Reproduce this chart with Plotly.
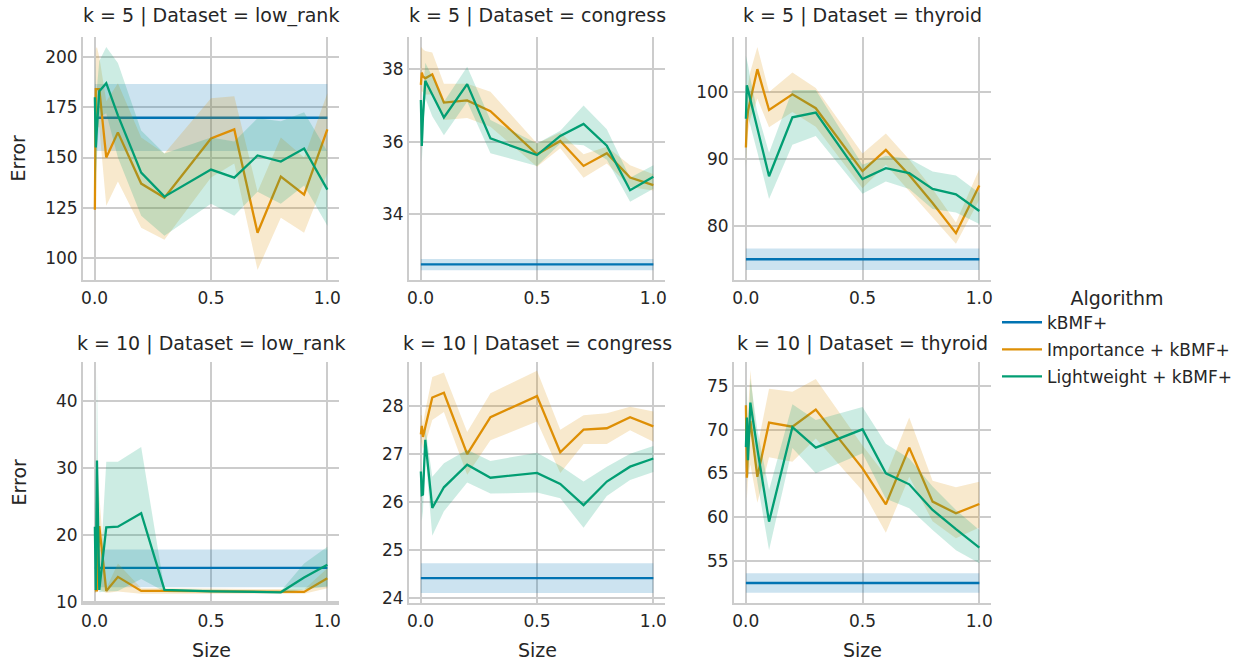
import plotly.graph_objects as go

# ---------------- data ----------------
sizes = [0.001, 0.005, 0.01, 0.02, 0.05, 0.1, 0.2, 0.3, 0.5, 0.6, 0.7, 0.8, 0.9, 1.0]
algorithms = ["kBMF+", "Importance + kBMF+", "Lightweight + kBMF+"]
ks = [5, 10]
datasets = ["low_rank", "congress", "thyroid"]

# k = 5, low_rank
lr5_kbmf = [169.8, 153.2, 186.6]  # mean, ci low, ci high (constant over size)
lr5_imp = [124, 184, 184, 184, 150, 162.5, 137, 130, 159.5, 164, 112.5, 140.5, 131.5, 164]
lr5_imp_lo = [100, 160, 165, 165, 126, 138, 115, 109, 140, 147, 94, 120, 112.5, 142]
lr5_imp_hi = [146, 204, 205, 200, 178, 187, 160, 152, 179.5, 180.5, 133, 160, 150, 182]
lr5_lw = [180, 155, 165, 183, 187, 171, 142.5, 130.5, 144, 140, 151, 148, 154.5, 134]
lr5_lw_lo = [133, 140, 150, 170, 172, 150, 121, 111, 127, 121, 133, 127, 136, 116]
lr5_lw_hi = [203, 175, 185, 198, 205, 197, 163.5, 152, 160, 158, 169.5, 168, 172.5, 153]

# k = 5, congress
cg5_kbmf = [32.61, 32.45, 32.76]
cg5_imp = [37.57, 37.91, 37.8, 37.75, 37.86, 37.08, 37.14, 36.84, 35.65, 36.02, 35.33, 35.68, 35.01, 34.8]
cg5_imp_lo = [37.2, 37.4, 37.35, 37.3, 37.3, 36.6, 36.65, 36.41, 35.31, 35.82, 35.0, 35.4, 34.75, 34.65]
cg5_imp_hi = [38.6, 38.6, 38.55, 38.5, 38.46, 37.6, 37.6, 37.38, 35.95, 36.25, 35.65, 35.86, 35.35, 35.1]
cg5_lw = [37.15, 35.88, 36.7, 37.68, 37.3, 36.67, 37.59, 36.09, 35.63, 36.16, 36.49, 35.89, 34.66, 35.03]
cg5_lw_lo = [36.8, 35.45, 36.2, 37.2, 36.7, 36.18, 37.1, 35.68, 35.33, 35.95, 35.9, 35.5, 34.34, 34.7]
cg5_lw_hi = [37.4, 36.5, 37.3, 38.18, 37.8, 37.1, 38.07, 36.6, 35.95, 36.3, 37.0, 36.34, 35.0, 35.35]

# k = 5, thyroid
th5_kbmf = [75.0, 73.4, 76.6]
th5_imp = [91.7, 95.5, 97.2, 98.8, 103.4, 97.3, 99.65, 97.56, 88.16, 91.34, 87.6, 83.4, 78.9, 86.0]
th5_imp_lo = [88.9, 92.5, 94, 96, 99.0, 94.7, 97.0, 94.8, 85.6, 89.1, 85.2, 81.2, 77.3, 83.9]
th5_imp_hi = [95, 99, 101, 103, 106.7, 100, 102.9, 100.6, 90.8, 93.8, 89.9, 85.5, 80.5, 88.5]
th5_lw = [96.0, 101.0, 100.3, 98.9, 94.6, 87.4, 96.2, 96.9, 86.97, 88.6, 87.86, 85.5, 84.7, 82.2]
th5_lw_lo = [88, 97, 96.5, 95, 91, 84.0, 92.1, 93.4, 84.8, 86.6, 85.5, 82.5, 82.0, 80.25]
th5_lw_hi = [105.4, 104.5, 104, 102, 97, 90.9, 100.3, 100.3, 89.1, 90.45, 90.0, 88.1, 87.5, 84.9]

# k = 10, low_rank
lr10_kbmf = [15.04, 12.15, 17.8]
lr10_imp = [11.7, 11.7, 11.7, 21.3, 11.6, 13.7, 11.6, 11.6, 11.55, 11.5, 11.5, 11.5, 11.45, 13.5]
lr10_imp_lo = [11.3, 11.3, 11.4, 11.8, 11.3, 11.5, 11.2, 11.2, 11.2, 11.2, 11.2, 11.2, 11.2, 12.0]
lr10_imp_hi = [12.2, 20, 31.5, 26, 12.0, 15.7, 12.0, 12.0, 11.9, 11.9, 11.9, 11.9, 11.8, 15.0]
lr10_lw = [21.2, 11.75, 31.1, 11.75, 21.1, 21.2, 23.2, 11.75, 11.55, 11.5, 11.5, 11.4, 13.6, 15.5]
lr10_lw_lo = [11.5, 11.4, 18, 11.4, 11.5, 11.6, 13.4, 11.5, 11.4, 11.4, 11.4, 11.3, 11.8, 12.3]
lr10_lw_hi = [25, 22, 44.6, 12.2, 30.9, 30.9, 33.1, 11.9, 11.8, 11.7, 11.7, 11.6, 15.7, 18.2]

# k = 10, congress
cg10_kbmf = [24.41, 24.1, 24.72]
cg10_imp = [27.4, 27.58, 27.35, 27.55, 28.17, 28.27, 26.99, 27.76, 28.2, 27.03, 27.5, 27.53, 27.76, 27.57]
cg10_imp_lo = [27.15, 27.25, 27.1, 27.2, 27.7, 27.87, 26.56, 27.28, 27.67, 26.6, 27.2, 27.2, 27.49, 27.25]
cg10_imp_hi = [27.8, 27.8, 27.6, 27.9, 28.6, 28.69, 27.45, 28.26, 28.73, 27.5, 27.8, 27.84, 27.98, 27.88]
cg10_lw = [26.63, 26.14, 26.15, 27.29, 25.87, 26.3, 26.77, 26.5, 26.6, 26.37, 25.93, 26.42, 26.73, 26.9]
cg10_lw_lo = [26.3, 25.6, 25.8, 27.0, 25.29, 25.8, 26.4, 26.17, 26.19, 26.07, 25.46, 26.12, 26.45, 26.62]
cg10_lw_hi = [26.9, 26.6, 26.5, 27.55, 26.52, 26.8, 27.08, 26.85, 27.02, 26.75, 26.42, 26.73, 27.0, 27.16]

# k = 10, thyroid
th10_kbmf = [52.44, 51.33, 53.55]
th10_imp = [72.8, 64.5, 68.0, 71.0, 64.6, 70.8, 70.34, 72.3, 65.57, 61.45, 67.94, 61.76, 60.42, 61.49]
th10_imp_lo = [69.5, 62.1, 64.5, 66, 61.64, 66.83, 66.34, 69.0, 63.0, 58.2, 64.6, 59.5, 57.56, 58.8]
th10_imp_hi = [75.5, 70, 72, 76.8, 68, 74.7, 74.35, 75.8, 68.2, 64.73, 71.4, 64.16, 63.4, 64.05]
th10_lw = [68.0, 71.4, 66.5, 73.1, 67.8, 59.47, 70.3, 67.94, 70.04, 65.0, 63.74, 60.8, 58.6, 56.5]
th10_lw_lo = [65.5, 67, 64, 70, 64, 56.2, 67.9, 65.0, 67.3, 62.1, 61.0, 58.5, 56.2, 54.7]
th10_lw_hi = [70, 75.5, 68, 75.9, 70, 63.1, 72.9, 71.1, 72.6, 68.4, 66.7, 63.5, 60.8, 58.5]

x_ticks = [0.0, 0.5, 1.0]
y_ticks = [
    [100, 125, 150, 175, 200], [34, 36, 38], [80, 90, 100],
    [10, 20, 30, 40], [24, 25, 26, 27, 28], [55, 60, 65, 70, 75],
]

# ---------------- styling ----------------
W, H = 1253, 664
colors = ["#0173b2", "#de8f05", "#029e73"]
band_colors = ["rgba(1,115,178,0.2)", "rgba(222,143,5,0.2)", "rgba(2,158,115,0.2)"]
y_ranges = [[89.0, 210.0], [32.18, 38.89], [71.9, 108.2],
            [9.8, 45.8], [23.89, 28.91], [50.15, 77.75]]


def px_x(v):
    return v / W


def px_y(v):
    return 1 - v / H


x_domains = [[px_x(83), px_x(339)], [px_x(409), px_x(665)], [px_x(734), px_x(991)]]
y_domains = [[px_y(280), px_y(37)], [px_y(603), px_y(362)]]
FONT = "DejaVu Sans, Verdana, sans-serif"
TXT = "#262626"
GRID = "#cccccc"

panels = [
    (lr5_kbmf, lr5_imp, lr5_imp_lo, lr5_imp_hi, lr5_lw, lr5_lw_lo, lr5_lw_hi),
    (cg5_kbmf, cg5_imp, cg5_imp_lo, cg5_imp_hi, cg5_lw, cg5_lw_lo, cg5_lw_hi),
    (th5_kbmf, th5_imp, th5_imp_lo, th5_imp_hi, th5_lw, th5_lw_lo, th5_lw_hi),
    (lr10_kbmf, lr10_imp, lr10_imp_lo, lr10_imp_hi, lr10_lw, lr10_lw_lo, lr10_lw_hi),
    (cg10_kbmf, cg10_imp, cg10_imp_lo, cg10_imp_hi, cg10_lw, cg10_lw_lo, cg10_lw_hi),
    (th10_kbmf, th10_imp, th10_imp_lo, th10_imp_hi, th10_lw, th10_lw_lo, th10_lw_hi),
]

fig = go.Figure()
annotations = []
layout_axes = {}

for i, (kb, imp, imp_lo, imp_hi, lw, lw_lo, lw_hi) in enumerate(panels):
    r, c = divmod(i, 3)
    xa = "x" if i == 0 else f"x{i+1}"
    ya = "y" if i == 0 else f"y{i+1}"
    n = len(sizes)
    series = [
        ([kb[0]] * n, [kb[1]] * n, [kb[2]] * n),
        (imp, imp_lo, imp_hi),
        (lw, lw_lo, lw_hi),
    ]
    for a, (m, lo, hi) in enumerate(series):
        fig.add_trace(go.Scatter(
            x=list(sizes) + list(sizes)[::-1], y=list(hi) + list(lo)[::-1],
            fill="toself", fillcolor=band_colors[a], line=dict(width=0),
            mode="lines", hoverinfo="skip", showlegend=False,
            xaxis=xa, yaxis=ya))
        fig.add_trace(go.Scatter(
            x=sizes, y=m, mode="lines", name=algorithms[a],
            line=dict(color=colors[a], width=2.3),
            showlegend=(i == 0), legendgroup=algorithms[a],
            xaxis=xa, yaxis=ya))

    axis_common = dict(
        showgrid=True, gridcolor=GRID, gridwidth=1.5,
        showline=True, linecolor=GRID, linewidth=1.9,
        zeroline=False, ticks="", automargin=False,
        tickfont=dict(family=FONT, size=17, color=TXT),
    )
    layout_axes["xaxis" if i == 0 else f"xaxis{i+1}"] = dict(
        axis_common, domain=x_domains[c], range=[-0.05, 1.05],
        tickvals=x_ticks, ticktext=[f"{v:.1f}" for v in x_ticks],
        anchor=ya, ticklabelstandoff=2)
    layout_axes["yaxis" if i == 0 else f"yaxis{i+1}"] = dict(
        axis_common, domain=y_domains[r], range=y_ranges[i],
        tickvals=y_ticks[i], anchor=xa, ticklabelstandoff=0)

    xc = (x_domains[c][0] + x_domains[c][1]) / 2
    annotations.append(dict(
        text=f"k = {ks[r]} | Dataset = {datasets[c]}", x=xc,
        y=(px_y(16) if r == 0 else px_y(343)), xref="paper", yref="paper",
        showarrow=False, xanchor="center", yanchor="middle",
        font=dict(family=FONT, size=19, color=TXT)))
    if r == 1:
        annotations.append(dict(
            text="Size", x=xc, y=px_y(650), xref="paper", yref="paper",
            showarrow=False, xanchor="center", yanchor="middle",
            font=dict(family=FONT, size=19, color=TXT)))
    if c == 0:
        annotations.append(dict(
            text="Error", x=px_x(18), y=(y_domains[r][0] + y_domains[r][1]) / 2,
            xref="paper", yref="paper", textangle=-90,
            showarrow=False, xanchor="center", yanchor="middle",
            font=dict(family=FONT, size=19, color=TXT)))

fig.update_layout(
    width=W, height=H,
    margin=dict(l=0, r=0, t=0, b=0),
    paper_bgcolor="white", plot_bgcolor="white",
    font=dict(family=FONT, color=TXT),
    annotations=annotations,
    legend=dict(
        x=px_x(997), y=px_y(280), xanchor="left", yanchor="top",
        title=dict(text="Algorithm", side="top center",
                   font=dict(family=FONT, size=19, color=TXT)),
        font=dict(family=FONT, size=17, color=TXT),
        bgcolor="rgba(0,0,0,0)", tracegroupgap=2, itemwidth=40,
    ),
    **layout_axes,
)

# the page body's default 8px margin would push the 1253x664 figure off the window
fig.write_html("out.html", config={"displayModeBar": False},
               post_script="document.body.style.margin='0px';")
